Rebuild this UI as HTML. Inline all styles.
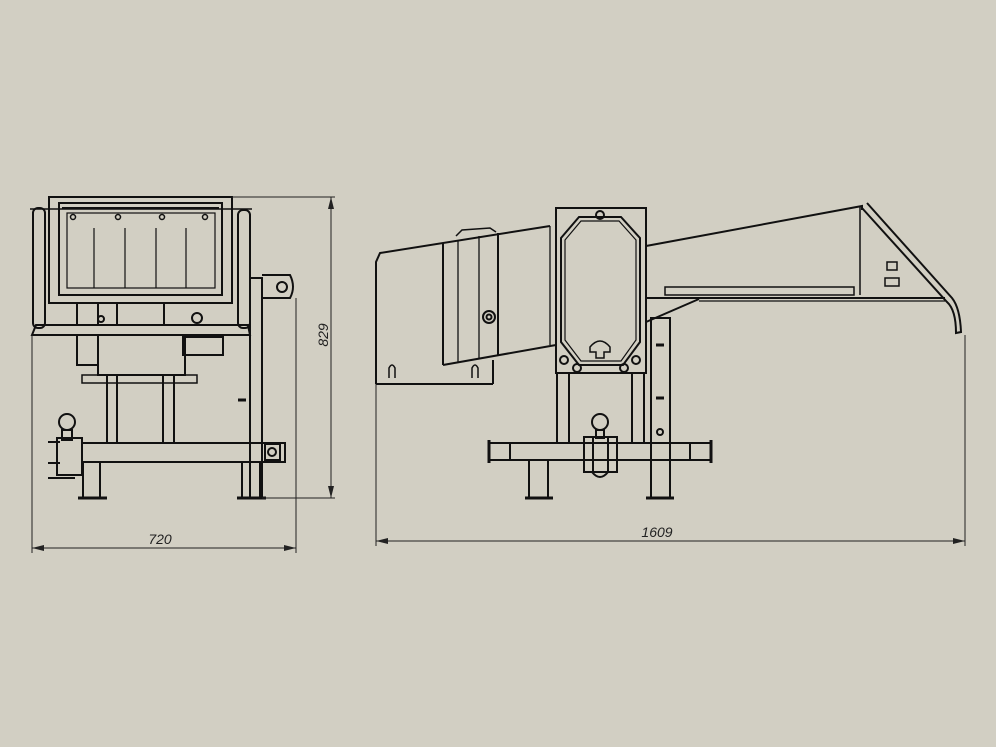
<!DOCTYPE html>
<html><head><style>
html,body{margin:0;padding:0;background:#d2cfc3;}
svg{display:block}
text{font-family:"Liberation Sans",sans-serif;font-style:italic;font-size:14px;fill:#222}
</style></head><body>
<svg width="996" height="747" viewBox="0 0 996 747" xmlns="http://www.w3.org/2000/svg">
<rect width="996" height="747" fill="#d2cfc3"/>
<g fill="none" stroke="#111" stroke-width="2">
<!-- LEFT VIEW -->
<rect x="49" y="197" width="183" height="106"/>
<rect x="59" y="203" width="163" height="92"/>
<rect x="67" y="213" width="148" height="75" stroke-width="1.2"/>
<line x1="62" y1="208" x2="219" y2="208"/>
<g stroke-width="1.2"><line x1="94" y1="228" x2="94" y2="288"/><line x1="125" y1="228" x2="125" y2="288"/><line x1="156" y1="228" x2="156" y2="288"/><line x1="186" y1="228" x2="186" y2="288"/></g>
<g stroke-width="1.5"><circle cx="73" cy="217" r="2.5"/><circle cx="118" cy="217" r="2.5"/><circle cx="162" cy="217" r="2.5"/><circle cx="205" cy="217" r="2.5"/></g>
<rect x="33" y="208" width="12" height="120" rx="5"/>
<rect x="238" y="210" width="12" height="118" rx="5"/>
<line x1="30" y1="209" x2="252" y2="209" stroke-width="1.5"/>
<polygon points="32,335 250,335 248,325 36,325"/>
<line x1="77" y1="303" x2="77" y2="325"/><line x1="98" y1="303" x2="98" y2="325"/><line x1="117" y1="303" x2="117" y2="325"/><line x1="164" y1="303" x2="164" y2="325"/>
<circle cx="197" cy="318" r="5"/><circle cx="101" cy="319" r="3"/>
<rect x="250" y="278" width="12" height="220"/>
<path d="M262,275 H290 Q296,287 290,298 H262"/>
<circle cx="282" cy="287" r="5"/>
<rect x="77" y="335" width="21" height="30"/>
<rect x="98" y="335" width="87" height="40"/>
<rect x="183" y="337" width="40" height="18"/>
<rect x="82" y="375" width="115" height="8" stroke-width="1.5"/>
<rect x="107" y="375" width="10" height="68"/>
<rect x="163" y="375" width="11" height="68"/>
<rect x="82" y="443" width="203" height="19"/>
<rect x="265" y="444" width="15" height="16"/><circle cx="272" cy="452" r="4"/>
<rect x="83" y="462" width="17" height="36"/>
<rect x="242" y="462" width="18" height="36"/>
<line x1="78" y1="498" x2="107" y2="498" stroke-width="3"/>
<line x1="237" y1="498" x2="266" y2="498" stroke-width="3"/>
<circle cx="67" cy="422" r="8"/>
<rect x="62" y="430" width="10" height="10"/>
<rect x="57" y="438" width="25" height="37"/>
<line x1="48" y1="442" x2="60" y2="442"/><line x1="48" y1="463" x2="60" y2="463"/><line x1="48" y1="478" x2="75" y2="478"/>
<line x1="238" y1="400" x2="246" y2="400" stroke-width="3"/>
<!-- RIGHT VIEW -->
<polyline points="376,384 376,262 380,253 550,226"/>
<line x1="376" y1="384" x2="493" y2="384"/><line x1="493" y1="360" x2="493" y2="384"/>
<line x1="443" y1="365" x2="556" y2="345"/>
<line x1="443" y1="243" x2="443" y2="365"/>
<line x1="458" y1="240" x2="458" y2="362" stroke-width="1.3"/>
<line x1="479" y1="236" x2="479" y2="358" stroke-width="1.3"/>
<line x1="498" y1="233" x2="498" y2="355"/>
<line x1="550" y1="226" x2="550" y2="345" stroke-width="1.3"/>
<path d="M456,236 L462,230 L490,228 L496,232" stroke-width="1.5"/>
<circle cx="489" cy="317" r="6"/><circle cx="489" cy="317" r="2.5"/>
<path d="M389,378 V368 Q392,362 395,368 V378" stroke-width="1.5"/>
<path d="M472,378 V368 Q475,362 478,368 V378" stroke-width="1.5"/>
<rect x="556" y="208" width="90" height="165"/>
<polygon points="561,238 579,217 621,217 640,238 640,342 623,365 579,365 561,342"/>
<polygon points="565,240 581,221 619,221 636,240 636,340 621,361 581,361 565,340" stroke-width="1.2"/>
<circle cx="600" cy="215" r="4"/><circle cx="564" cy="360" r="4"/><circle cx="636" cy="360" r="4"/><circle cx="577" cy="368" r="4"/><circle cx="624" cy="368" r="4"/>
<path d="M596,358 V352 H590 V347 Q600,335 610,347 V352 H604 V358 Z" stroke-width="1.5"/>
<polyline points="646,246 862,206 862,210"/>
<line x1="860" y1="206" x2="860" y2="295" stroke-width="1.5"/>
<path d="M867,203 L952,298 Q960,308 961,332 L956,333 Q956,310 947,302 L862,208"/>
<rect x="665" y="287" width="189" height="8" stroke-width="1.5"/>
<line x1="646" y1="298" x2="945" y2="298"/><line x1="699" y1="301" x2="945" y2="301" stroke-width="1.2"/>
<line x1="646" y1="322" x2="699" y2="299"/>
<rect x="651" y="318" width="19" height="180"/>
<rect x="557" y="373" width="12" height="70"/>
<rect x="632" y="373" width="12" height="70"/>
<rect x="489" y="443" width="222" height="17"/>
<line x1="510" y1="443" x2="510" y2="460"/><line x1="690" y1="443" x2="690" y2="460"/>
<line x1="489" y1="440" x2="489" y2="463" stroke-width="3"/><line x1="711" y1="440" x2="711" y2="463" stroke-width="3"/>
<rect x="529" y="460" width="19" height="38"/>
<rect x="651" y="460" width="19" height="38"/>
<line x1="525" y1="498" x2="553" y2="498" stroke-width="3"/><line x1="646" y1="498" x2="674" y2="498" stroke-width="3"/>
<circle cx="600" cy="422" r="8"/><rect x="596" y="430" width="8" height="8"/>
<rect x="584" y="437" width="33" height="35"/><line x1="593" y1="437" x2="593" y2="472"/><line x1="608" y1="437" x2="608" y2="472"/>
<path d="M592,472 Q600,482 608,472"/>
<line x1="656" y1="398" x2="664" y2="398" stroke-width="3"/><line x1="656" y1="345" x2="664" y2="345" stroke-width="3"/>
<circle cx="660" cy="432" r="3"/>
<rect x="887" y="262" width="10" height="8" stroke-width="1.5"/><rect x="885" y="278" width="14" height="8" stroke-width="1.5"/>
</g>
<!-- dimensions -->
<g stroke="#222" stroke-width="1" fill="none">
<line x1="232" y1="197" x2="335" y2="197"/><line x1="262" y1="498" x2="335" y2="498"/>
<line x1="331" y1="197" x2="331" y2="498"/>
<line x1="32" y1="335" x2="32" y2="553"/><line x1="296" y1="298" x2="296" y2="553"/>
<line x1="32" y1="548" x2="296" y2="548"/>
<line x1="376" y1="384" x2="376" y2="546"/><line x1="965" y1="335" x2="965" y2="546"/>
<line x1="376" y1="541" x2="965" y2="541"/>
</g>
<g fill="#222">
<polygon points="331,197 328,209 334,209"/><polygon points="331,498 328,486 334,486"/>
<polygon points="32,548 44,545 44,551"/><polygon points="296,548 284,545 284,551"/>
<polygon points="376,541 388,538 388,544"/><polygon points="965,541 953,538 953,544"/>
</g>
<text x="160" y="544" text-anchor="middle">720</text>
<text x="657" y="537" text-anchor="middle">1609</text>
<text transform="translate(328,335) rotate(-90)" text-anchor="middle">829</text>
</svg>
</body></html>
